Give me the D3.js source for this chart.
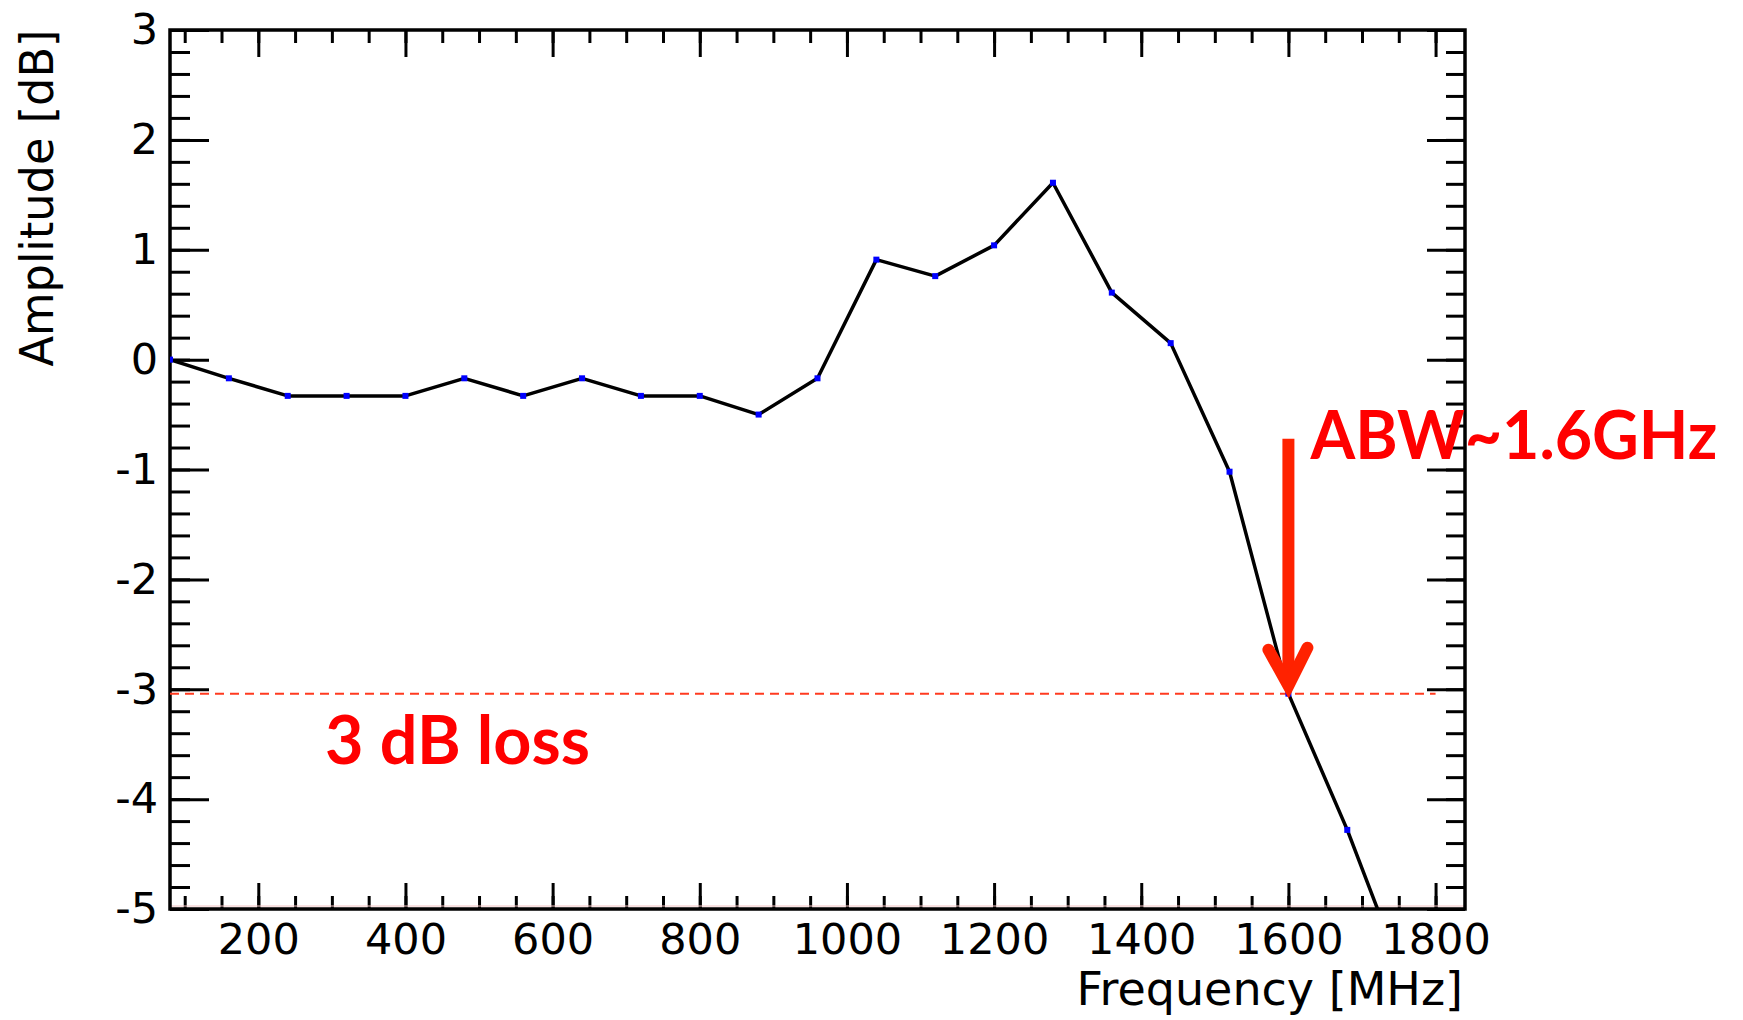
<!DOCTYPE html>
<html>
<head>
<meta charset="utf-8">
<script src="https://cdn.jsdelivr.net/npm/d3@7"></script>
<style>
  body { margin: 0; background: #fff; }
  svg { display: block; }
</style>
</head>
<body>
<div id="chart"></div>
<script>
const frequencies = [80, 160, 240, 320, 400, 480, 560, 640, 720, 800, 880, 960,
                     1040, 1120, 1200, 1280, 1360, 1440, 1520, 1600, 1680, 1760];
const amplitudes = [0, -0.17, -0.33, -0.33, -0.33, -0.17, -0.33, -0.17, -0.33, -0.33, -0.5, -0.17,
                    0.91, 0.76, 1.04, 1.61, 0.61, 0.15, -1.02, -3.04, -4.28, -5.68];
const xTickLabels = [200, 400, 600, 800, 1000, 1200, 1400, 1600, 1800];
const yTickLabels = [-5, -4, -3, -2, -1, 0, 1, 2, 3];
const lossLevel = -3.04;
const lossEnd = 1800;
const abwFrequency = 1600;
const arrowTop = -0.72;

const margin = {top: 30, right: 278, bottom: 111, left: 170};
const width = 1743 - margin.left - margin.right;
const height = 1020 - margin.top - margin.bottom;

const root = d3.select("#chart")
               .append("svg")
               .attr("width", 1743)
               .attr("height", 1020);

const svg = root.append("g")
                .attr("transform", `translate(${margin.left},${margin.top})`);

const x = d3.scaleLinear().domain([80, 1840]).range([0, width]);
const y = d3.scaleLinear().domain([-5, 3]).range([height, 0]);

const xMinor = d3.range(100, 1840, 50);
const yMinor = d3.range(-5, 3.01, 0.2);
const plain = d => String(d);

svg.append("clipPath")
   .attr("id", "plot-clip")
   .append("rect")
   .attr("width", width)
   .attr("height", height);

function styleAxis(g) {
    g.select(".domain").remove();
    g.selectAll(".tick line").attr("stroke", "#000").attr("stroke-width", 3);
    g.selectAll("text")
     .attr("font-family", "DejaVu Sans")
     .attr("font-size", 43)
     .attr("fill", "#000");
}

// ticks on all four sides, pointing inward
svg.append("g").attr("transform", `translate(0,${height})`)
   .call(d3.axisBottom(x).tickValues(xMinor).tickSize(-13).tickFormat(""))
   .call(styleAxis);
svg.append("g").attr("transform", `translate(0,${height})`)
   .call(d3.axisBottom(x).tickValues(xTickLabels).tickSize(-26).tickPadding(14).tickFormat(plain))
   .call(styleAxis);
svg.append("g")
   .call(d3.axisTop(x).tickValues(xMinor).tickSize(-13).tickFormat(""))
   .call(styleAxis);
svg.append("g")
   .call(d3.axisTop(x).tickValues(xTickLabels).tickSize(-27).tickFormat(""))
   .call(styleAxis);

svg.append("g")
   .call(d3.axisLeft(y).tickValues(yMinor).tickSize(-20).tickFormat(""))
   .call(styleAxis);
svg.append("g")
   .call(d3.axisLeft(y).tickValues(yTickLabels).tickSize(-39).tickPadding(12).tickFormat(plain))
   .call(styleAxis);
svg.append("g").attr("transform", `translate(${width},0)`)
   .call(d3.axisRight(y).tickValues(yMinor).tickSize(-19).tickFormat(""))
   .call(styleAxis);
svg.append("g").attr("transform", `translate(${width},0)`)
   .call(d3.axisRight(y).tickValues(yTickLabels).tickSize(-38).tickFormat(""))
   .call(styleAxis);

svg.append("line")
   .attr("x1", 0).attr("x2", width)
   .attr("y1", y(-5) - 3).attr("y2", y(-5) - 3)
   .attr("stroke", "#f3c4c4")
   .attr("stroke-width", 1);

svg.append("rect")
   .attr("width", width)
   .attr("height", height)
   .attr("fill", "none")
   .attr("stroke", "#000")
   .attr("stroke-width", 3.5);

// 3 dB reference
svg.append("line")
   .attr("x1", x(frequencies[0])).attr("x2", x(lossEnd))
   .attr("y1", y(lossLevel)).attr("y2", y(lossLevel))
   .attr("stroke", "#ff3b20")
   .attr("stroke-width", 2)
   .attr("stroke-dasharray", "9,6");

const points = frequencies.map((f, i) => ({f: f, a: amplitudes[i]}));

const plot = svg.append("g").attr("clip-path", "url(#plot-clip)");

plot.append("path")
    .datum(points)
    .attr("fill", "none")
    .attr("stroke", "#000")
    .attr("stroke-width", 3.5)
    .attr("stroke-linejoin", "round")
    .attr("d", d3.line().x(d => x(d.f)).y(d => y(d.a)));

plot.selectAll(".marker")
    .data(points)
    .enter().append("rect")
    .attr("class", "marker")
    .attr("x", d => x(d.f) - 3)
    .attr("y", d => y(d.a) - 3)
    .attr("width", 6)
    .attr("height", 6)
    .attr("fill", "#0000ff");

// arrow marking the bandwidth
const ax = x(abwFrequency);
const tipY = y(lossLevel) - 8;
svg.append("line")
   .attr("x1", ax).attr("x2", ax)
   .attr("y1", y(arrowTop)).attr("y2", tipY - 4)
   .attr("stroke", "#ff2200")
   .attr("stroke-width", 12);
svg.append("path")
   .attr("d", `M${ax - 20},${tipY - 36}L${ax},${tipY}L${ax + 19},${tipY - 38}`)
   .attr("fill", "none")
   .attr("stroke", "#ff2200")
   .attr("stroke-width", 12)
   .attr("stroke-linecap", "round")
   .attr("stroke-linejoin", "miter");

svg.append("text")
   .attr("x", ax + 22)
   .attr("y", y(arrowTop) + 20)
   .attr("font-family", "Lato")
   .attr("font-weight", "bold")
   .attr("font-size", 67)
   .attr("fill", "#ff0000")
   .attr("textLength", 407)
   .attr("lengthAdjust", "spacingAndGlyphs")
   .text("ABW~1.6GHz");

svg.append("text")
   .attr("x", 155)
   .attr("y", y(lossLevel) + 70)
   .attr("font-family", "Lato")
   .attr("font-weight", "bold")
   .attr("font-size", 67)
   .attr("fill", "#ff0000")
   .attr("textLength", 265)
   .attr("lengthAdjust", "spacingAndGlyphs")
   .text("3 dB loss");

root.append("text")
    .attr("transform", `translate(53,${margin.top + 168}) rotate(-90)`)
    .attr("text-anchor", "middle")
    .attr("font-family", "DejaVu Sans")
    .attr("font-size", 46)
    .attr("textLength", 337)
    .attr("lengthAdjust", "spacingAndGlyphs")
    .text("Amplitude [dB]");

root.append("text")
    .attr("x", margin.left + width - 2)
    .attr("y", 1005)
    .attr("text-anchor", "end")
    .attr("font-family", "DejaVu Sans")
    .attr("font-size", 46)
    .text("Frequency [MHz]");
</script>
</body>
</html>
